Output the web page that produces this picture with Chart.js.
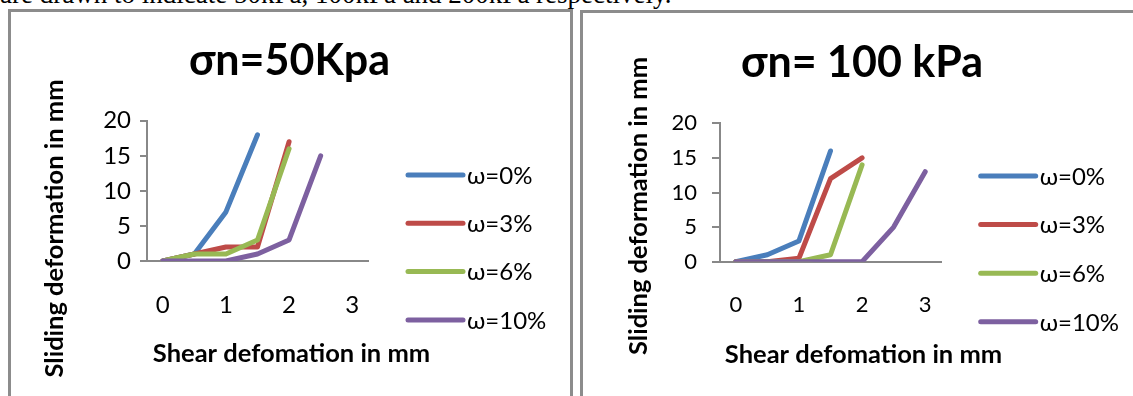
<!DOCTYPE html>
<html>
<head>
<meta charset="utf-8">
<script src="https://cdn.jsdelivr.net/npm/chart.js@4.4.1/dist/chart.umd.min.js"></script>
<style>
  html, body { margin: 0; padding: 0; background: #fff; }
  body { width: 1133px; height: 396px; position: relative; overflow: hidden; }
  .caption { position: absolute; left: 0; top: -19px; font: 27px/27px "Liberation Serif", serif; white-space: nowrap; color: #000; }
  .box { position: absolute; border: 3px solid #8c8c8c; border-bottom: none; box-sizing: border-box; }
  #boxA { left: 8px; top: 9px; width: 565px; height: 400px; }
  #boxB { left: 580px; top: 10px; width: 570px; height: 400px; }
  canvas { position: absolute; }
  #chartA { left: 11px; top: 12px; }
  #chartB { left: 583px; top: 13px; }
</style>
</head>
<body>
<div class="caption">are drawn to indicate 50kPa, 100kPa and 200kPa respectively.</div>
<div class="box" id="boxA"></div>
<div class="box" id="boxB"></div>
<canvas id="chartA" width="559" height="384"></canvas>
<canvas id="chartB" width="550" height="383"></canvas>
<script>
// shear deformation steps (mm), only whole numbers get a label
const shearSteps = ["0", "0.5", "1", "1.5", "2", "2.5", "3"];
const seriesNames = ["ω=0%", "ω=3%", "ω=6%", "ω=10%"];
const seriesColors = ["#4A7EBB", "#BE4B48", "#98B954", "#7D60A0"];
const yTicks = [0, 5, 10, 15, 20];

// σn = 50 kPa
const w0_50 = [0, 1, 7, 18, null, null, null];
const w3_50 = [0, 1, 2, 2, 17, null, null];
const w6_50 = [0, 1, 1, 3, 16, null, null];
const w10_50 = [0, 0, 0, 1, 3, 15, null];

// σn = 100 kPa
const w0_100 = [0, 1, 3, 16, null, null, null];
const w3_100 = [0, 0, 0.5, 12, 15, null, null];
const w6_100 = [0, 0, 0, 1, 14, null, null];
const w10_100 = [0, 0, 0, 0, 0, 5, 13];

const FONT = "Lato, 'Open Sans', sans-serif";
const AXIS = "#888888";

// titles + legend drawn at fixed spots, like the excel layout
const decor = {
  id: "decor",
  afterDraw(chart, args, o) {
    const ctx = chart.ctx;
    ctx.save();
    ctx.fillStyle = "#000";
    ctx.textAlign = "center";
    ctx.textBaseline = "alphabetic";
    ctx.font = "bold " + o.titleSize + "px " + FONT;
    ctx.fillText(o.title, o.titleX, o.titleY);

    ctx.font = "bold " + o.axisSize + "px " + FONT;
    ctx.fillText("Shear defomation in mm", o.xTitleX, o.xTitleY);
    ctx.save();
    ctx.translate(o.yTitleX, o.yTitleY);
    ctx.rotate(-Math.PI / 2);
    ctx.fillText("Sliding deformation in mm", 0, 0);
    ctx.restore();

    ctx.textAlign = "left";
    ctx.textBaseline = "middle";
    ctx.font = o.legendSize + "px " + FONT;
    chart.data.datasets.forEach((ds, i) => {
      const y = o.legendY + i * o.legendGap;
      ctx.strokeStyle = ds.borderColor;
      ctx.lineWidth = 5;
      ctx.lineCap = "round";
      ctx.beginPath();
      ctx.moveTo(o.legendX, y);
      ctx.lineTo(o.legendX + 55, y);
      ctx.stroke();
      ctx.fillText(ds.label, o.legendX + 59, y + 1);
    });
    ctx.restore();
  }
};

function makeChart(id, series, cfg) {
  const datasets = series.map((data, i) => ({
    label: seriesNames[i],
    data: data,
    borderColor: seriesColors[i],
    backgroundColor: seriesColors[i],
    borderWidth: 5,
    borderCapStyle: "round",
    borderJoinStyle: "round",
    pointRadius: 0,
    tension: 0,
    order: series.length - i
  }));

  return new Chart(document.getElementById(id), {
    type: "line",
    data: { labels: shearSteps, datasets: datasets },
    plugins: [decor],
    options: {
      responsive: false,
      animation: false,
      devicePixelRatio: 1,
      layout: { padding: cfg.padding },
      plugins: {
        legend: { display: false },
        tooltip: { enabled: false },
        decor: cfg.decor
      },
      scales: {
        x: {
          offset: true,
          grid: { display: false },
          border: { display: true, color: AXIS, width: 2 },
          ticks: {
            color: "#000",
            font: { family: FONT, size: cfg.tickSize },
            padding: cfg.xPad,
            maxRotation: 0,
            autoSkip: false,
            callback: function (v, i) {
              const s = this.getLabelForValue(v);
              return Number.isInteger(Number(s)) ? s : "";
            }
          },
          afterFit: s => { s.height = cfg.xHeight; }
        },
        y: {
          min: 0,
          max: 20,
          afterBuildTicks: s => { s.ticks = yTicks.map(v => ({ value: v })); },
          grid: { drawOnChartArea: false, drawTicks: true, tickLength: cfg.tickLen, color: AXIS, lineWidth: 2 },
          border: { display: true, color: AXIS, width: 2 },
          ticks: {
            color: "#000",
            font: { family: FONT, size: cfg.tickSize },
            padding: cfg.yPad
          },
          afterFit: s => { s.width = 80; }
        }
      }
    }
  });
}

makeChart("chartA", [w0_50, w3_50, w6_50, w10_50], {
  padding: { left: 56, right: 202, top: 108.7, bottom: 384 - 249 - 80 },
  xHeight: 80,
  xPad: 22,
  yPad: 9,
  tickLen: 7,
  tickSize: 24,
  decor: {
    title: "σn=50Kpa", titleSize: 43, titleX: 278.5, titleY: 63,
    axisSize: 25.5, xTitleX: 280.5, xTitleY: 350, yTitleX: 52, yTitleY: 216.5,
    legendSize: 24, legendX: 397, legendY: 163, legendGap: 48.3
  }
});

makeChart("chartB", [w0_100, w3_100, w6_100, w10_100], {
  padding: { left: 57, right: 550 - 358, top: 110.3, bottom: 383 - 248.7 - 80 },
  xHeight: 80,
  xPad: 22,
  yPad: 15,
  tickLen: 8,
  tickSize: 22,
  decor: {
    title: "σn= 100 kPa", titleSize: 43, titleX: 279, titleY: 63.7,
    axisSize: 25.5, xTitleX: 280.5, xTitleY: 350, yTitleX: 64, yTitleY: 193,
    legendSize: 24, legendX: 397.7, legendY: 163, legendGap: 48.6
  }
});
</script>
</body>
</html>
